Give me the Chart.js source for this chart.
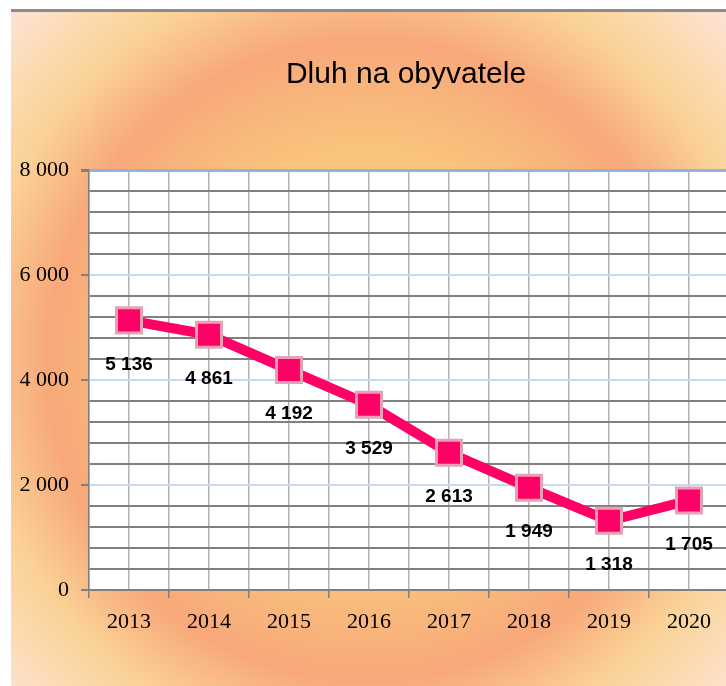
<!DOCTYPE html>
<html>
<head>
<meta charset="utf-8">
<script src="https://cdn.jsdelivr.net/npm/chart.js@4"></script>
<style>
    html, body { margin: 0; padding: 0; background: #ffffff; overflow: hidden; }
    #wrap { position: absolute; left: 11px; top: 9px; width: 718px; height: 677px; }
</style>
</head>
<body>
<div id="wrap"><canvas id="debtChart"></canvas></div>
<script>
// Dluh na obyvatele
const chartTitle = 'Dluh na obyvatele';
const years = ['2013', '2014', '2015', '2016', '2017', '2018', '2019', '2020'];
const debtPerPerson = [5136, 4861, 4192, 3529, 2613, 1949, 1318, 1705];
const yTickLabels = [0, 2000, 4000, 6000, 8000];

// 8000 -> "8 000"
function formatNum(v) {
    return String(v).replace(/\B(?=(\d{3})+(?!\d))/g, ' ');
}

// orange radial background, white plot area and the title
const backgroundPlugin = {
    id: 'background',
    beforeDraw(chart) {
        const ctx = chart.ctx;
        const w = chart.width, h = chart.height;
        const g = ctx.createRadialGradient(357, 351, 0, 357, 351, 500);
        g.addColorStop(0, '#fbd79c');
        g.addColorStop(0.42, '#f9c47c');
        g.addColorStop(0.64, '#f8a87a');
        g.addColorStop(0.79, '#fad296');
        g.addColorStop(0.9, '#fcdcb6');
        g.addColorStop(1, '#fde2d6');
        ctx.save();
        ctx.fillStyle = g;
        ctx.fillRect(0, 0, w, h);
        ctx.fillStyle = '#8c8c8c';
        ctx.fillRect(0, 0, w, 3); // grey line on top
        const a = chart.chartArea;
        ctx.fillStyle = '#ffffff';
        ctx.fillRect(a.left, a.top, w - a.left, a.bottom - a.top);

        // title (sits a bit right of the middle in the original)
        ctx.font = '30px "Liberation Sans", Arial, sans-serif';
        ctx.fillStyle = '#000000';
        ctx.textAlign = 'center';
        ctx.textBaseline = 'middle';
        ctx.fillText(chartTitle, 395, 66);
        ctx.restore();
    }
};

// value labels under every point
const valueLabelPlugin = {
    id: 'valueLabels',
    afterDatasetsDraw(chart) {
        const ctx = chart.ctx;
        const meta = chart.getDatasetMeta(0);
        ctx.save();
        ctx.font = 'bold 19px "Liberation Sans", Arial, sans-serif';
        ctx.fillStyle = '#000000';
        ctx.textAlign = 'center';
        ctx.textBaseline = 'middle';
        meta.data.forEach((pt, i) => {
            ctx.fillText(formatNum(debtPerPerson[i]), pt.x, pt.y + 44);
        });
        ctx.restore();
    }
};

function createDebtChart() {
    const ctx = document.getElementById('debtChart').getContext('2d');
    const points = debtPerPerson.map((v, i) => ({ x: i, y: v }));

    new Chart(ctx, {
        type: 'line',
        data: {
            datasets: [{
                label: chartTitle,
                data: points,
                borderColor: '#ff0066',
                borderWidth: 10,
                backgroundColor: '#ff0066',
                pointStyle: 'rect',
                pointRadius: 17.7,
                pointBackgroundColor: '#ff0066',
                pointBorderColor: '#e6a2b4',
                pointBorderWidth: 3,
                tension: 0,
                clip: false
            }]
        },
        options: {
            responsive: true,
            maintainAspectRatio: false,
            animation: false,
            layout: { autoPadding: false, padding: { left: 0, right: 0, top: 161, bottom: 0 } },
            plugins: {
                legend: { display: false },
                tooltip: { enabled: false },
                title: { display: false }
            },
            scales: {
                x: {
                    type: 'linear',
                    min: -0.5,
                    max: 7.5,
                    afterFit(scale) {
                        scale.height = 96;
                        scale.paddingRight = 0; // plot runs off the right edge like the original
                    },
                    ticks: {
                        stepSize: 0.5,
                        maxTicksLimit: 30,
                        autoSkip: false,
                        maxRotation: 0,
                        padding: 11,
                        color: '#000000',
                        font: { family: '"Liberation Serif", "Times New Roman", serif', size: 22 },
                        callback: v => Number.isInteger(v) ? years[v] : ''
                    },
                    grid: {
                        color: '#b4b4b4',
                        lineWidth: 1.5,
                        tickLength: 8,
                        tickColor: c => Number.isInteger(c.tick.value) ? 'rgba(0,0,0,0)' : '#808080'
                    },
                    border: { color: '#808080', width: 1.5 }
                },
                y: {
                    min: 0,
                    max: 8000,
                    afterFit(scale) { scale.width = 78; },
                    ticks: {
                        stepSize: 400,
                        maxTicksLimit: 30,
                        autoSkip: false,
                        padding: 12,
                        color: '#000000',
                        font: { family: '"Liberation Serif", "Times New Roman", serif', size: 22 },
                        callback: v => yTickLabels.includes(v) ? formatNum(v) : ''
                    },
                    grid: {
                        tickLength: 8,
                        color: c => {
                            const v = c.tick.value;
                            if (v === 8000) return '#95b3d7';
                            if (v === 0) return '#808080';
                            if (v % 2000 === 0) return '#c9daf0';
                            return '#808080';
                        },
                        lineWidth: c => c.tick.value === 8000 ? 3 : 2,
                        tickColor: c => c.tick.value % 2000 === 0 ? '#808080' : 'rgba(0,0,0,0)'
                    },
                    border: { color: '#808080', width: 1.5 }
                }
            }
        },
        plugins: [backgroundPlugin, valueLabelPlugin]
    });
}

document.addEventListener('DOMContentLoaded', () => {
    createDebtChart();
});
</script>
</body>
</html>
